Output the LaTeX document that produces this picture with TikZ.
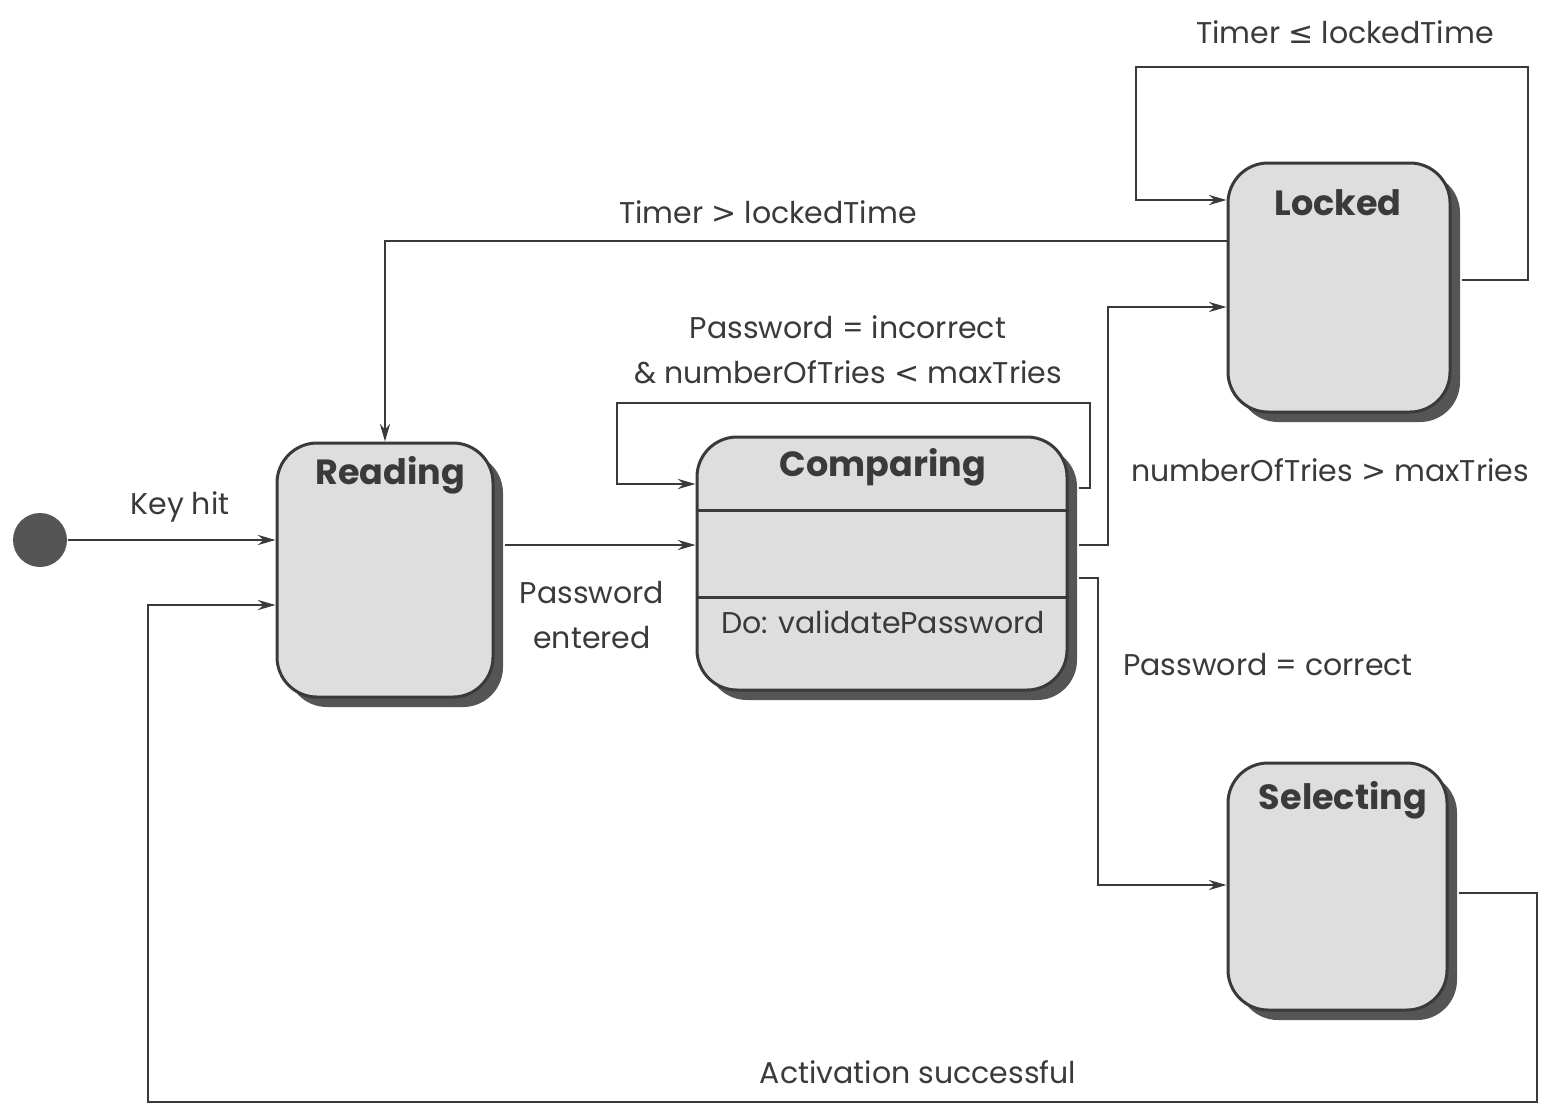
\documentclass[tikz,border=0pt]{standalone}
\usepackage{fontspec}
\setmainfont{Poppins}
\newfontfamily\symfont{DejaVu Sans}
\usetikzlibrary{arrows.meta,shadows,positioning}

\definecolor{boxfill}{HTML}{DEDEDE}
\definecolor{ink}{HTML}{3A3A3A}
\definecolor{shade}{HTML}{555555}

\begin{document}
\begin{tikzpicture}[x=0.4pt,y=-0.4pt,
	state/.style={draw=ink, line width=1.2pt, fill=boxfill, rounded corners=16pt, inner sep=0pt,
		drop shadow={shadow xshift=4pt, shadow yshift=-4pt, fill=shade, opacity=1}},
	title/.style={text=ink, font=\fontsize{14}{16}\selectfont\bfseries},
	lbl/.style={text=ink, font=\fontsize{12}{18}\selectfont, align=center},
	wire/.style={draw=ink, line width=1.1pt},
	arr/.style={wire, -{Stealth[length=7pt,width=4pt]}}]
	\useasboundingbox (0,0) rectangle (1546,1108);
	
	\node[circle, fill=shade, minimum size=21.6pt, inner sep=0pt] (init) at (40,540) {};
	
	\node[state, minimum width=86.4pt, minimum height=101.6pt] (reading) at (385,570) {};
	\node[state, minimum width=148pt, minimum height=101.2pt] (comparing) at (882,563.5) {};
	\node[state, minimum width=88.8pt, minimum height=99.6pt] (locked) at (1339,287.5) {};
	\node[state, minimum width=87.6pt, minimum height=98.8pt] (selecting) at (1337.5,886.5) {};
	
	\node[title] (readingT) at (390,475) {Reading};
	\node[title] (comparingT) at (883,467) {Comparing};
	\node[title] (lockedT) at (1338,203) {Locked};
	\node[title] (selectingT) at (1343,800) {Selecting};
	
	\draw[wire, line width=1.2pt] (comparing.west |- 0,510) -- (comparing.east |- 0,510);
	\draw[wire, line width=1.2pt] (comparing.west |- 0,597) -- (comparing.east |- 0,597);
	\node[lbl] (doT) at (883,622) {Do: validatePassword};
	
	% transitions
	\draw[arr] (init) -- (reading.west |- init);
	\draw[arr] ([xshift=4pt]reading.east |- 0,545) -- (comparing.west |- 0,545);
	\draw[arr] ([xshift=4pt]comparing.east |- 0,488) -| (1090,403) -| (617,484) -- (comparing.west |- 0,484);
	\draw[arr] ([xshift=4pt]comparing.east |- 0,545) -| (1108,307) -- (locked.west |- 0,307);
	\draw[arr] ([xshift=4pt]comparing.east |- 0,578) -| (1098,885) -- (selecting.west |- 0,885);
	\draw[arr] ([xshift=4pt]locked.east |- 0,280) -| (1528,67) -| (1136,200) -- (locked.west |- 0,200);
	\draw[arr] (locked.west |- 0,241) -| (reading.north);
	\draw[arr] ([xshift=4pt]selecting.east |- 0,893) -| (1537,1102) -| (148,605) -- (reading.west |- 0,605);
	
	\node[lbl] (keyL) at (180,507) {Key hit};
	\node[lbl] (enteredL) at (592,615) {Password\\entered};
	\node[lbl] (incorrectL) at (848,350) {Password = incorrect\\\& numberOfTries {\symfont <} maxTries};
	\node[lbl] (outL) at (768,212) {Timer {\symfont >} lockedTime};
	\node[lbl] (stayL) at (1345,32) {Timer {\symfont ≤} lockedTime};
	\node[lbl] (triesL) at (1330,470) {numberOfTries {\symfont >} maxTries};
	\node[lbl] (correctL) at (1268,665) {Password = correct};
	\node[lbl] (activeL) at (918,1072) {Activation successful};
\end{tikzpicture}
\end{document}
